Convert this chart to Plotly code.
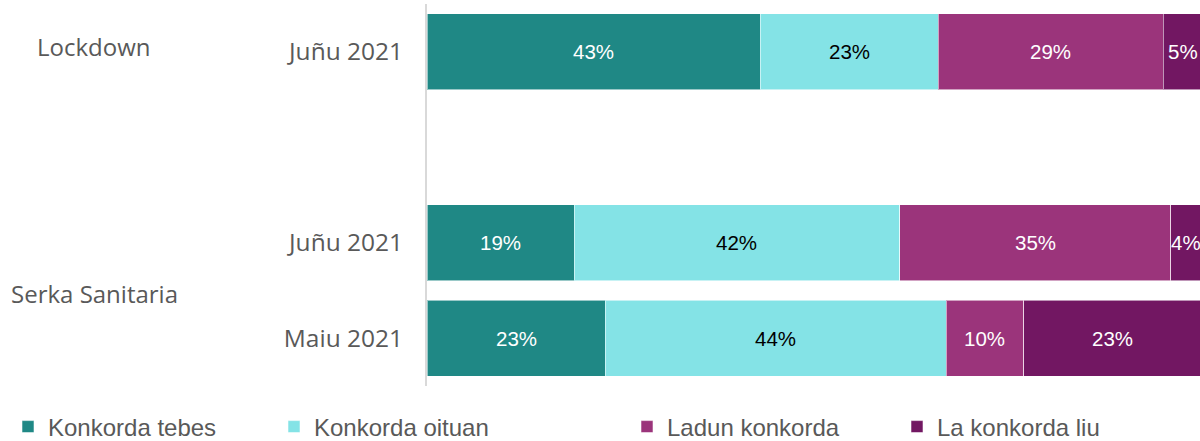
import plotly.graph_objects as go

# Data
row_labels = ["Juñu 2021", "Juñu 2021", "Maiu 2021"]
row_pos = [3, 1, 0]
series_names = ["Konkorda tebes", "Konkorda oituan", "Ladun konkorda", "La konkorda liu"]
konkorda_tebes = [43, 19, 23]
konkorda_oituan = [23, 42, 44]
ladun_konkorda = [29, 35, 10]
la_konkorda_liu = [5, 4, 23]
group_labels = ["Lockdown", "Serka Sanitaria"]
group_pos = [3.05, 0.47]

series_values = [konkorda_tebes, konkorda_oituan, ladun_konkorda, la_konkorda_liu]
colors = ["#1F8885", "#84E3E6", "#9B347B", "#721762"]
text_colors = ["white", "black", "white", "white"]
legend_ids = ["legend", "legend2", "legend3", "legend4"]
legend_x = [8, 274, 627, 897]

W, H = 1200, 441
plot_left, plot_right = 427, 1200

fig = go.Figure()
for name, vals, col, lid in zip(series_names, series_values, colors, legend_ids):
    fig.add_trace(go.Bar(
        y=row_pos, x=vals, orientation="h", name=name,
        marker=dict(color=col, line=dict(color="rgba(255,255,255,0.55)", width=1)),
        width=0.8, legend=lid, hoverinfo="skip",
    ))

# segment labels, placed at segment centres in data coordinates
cum = [0] * len(row_pos)
for vals, tc in zip(series_values, text_colors):
    for i, v in enumerate(vals):
        fig.add_annotation(x=cum[i] + v / 2, y=row_pos[i], xref="x", yref="y",
                           text=f"{v}%", showarrow=False,
                           font=dict(family="Liberation Sans", size=20.5, color=tc))
        cum[i] += v

for lab, yp in zip(group_labels, group_pos):
    fig.add_annotation(x=(94 - plot_left) / (plot_right - plot_left), xref="paper",
                       y=yp, yref="y", text=lab, showarrow=False, xanchor="center",
                       font=dict(family="Open Sans", size=24, color="#595959"))

legend_common = dict(orientation="h", xref="container", yref="container",
                     yanchor="middle", y=14 / H, borderwidth=0,
                     bgcolor="rgba(0,0,0,0)",
                     font=dict(family="Liberation Sans", size=24, color="#595959"),
                     itemwidth=30)
layout_legends = {}
for lid, lx in zip(legend_ids, legend_x):
    layout_legends[lid] = dict(legend_common, x=lx / W, xanchor="left")

fig.update_layout(
    width=W, height=H,
    margin=dict(l=plot_left, r=W - plot_right, t=4, b=55, autoexpand=False),
    paper_bgcolor="white", plot_bgcolor="white",
    barmode="stack", showlegend=True,
    xaxis=dict(range=[0, 99.75], showgrid=False, zeroline=False, showticklabels=False,
               showline=False, fixedrange=True),
    yaxis=dict(range=[-0.5, 3.5], tickvals=row_pos, ticktext=row_labels,
               showgrid=False, zeroline=False, showline=True, linecolor="#D9D9D9",
               linewidth=2, ticks="", ticklabelstandoff=17, fixedrange=True,
               tickfont=dict(family="Open Sans", size=24.5, color="#595959")),
    **layout_legends,
)

fig.write_html("out.html", config={"displayModeBar": False},
               post_script="document.body.style.margin='0';document.body.style.overflow='hidden';")
